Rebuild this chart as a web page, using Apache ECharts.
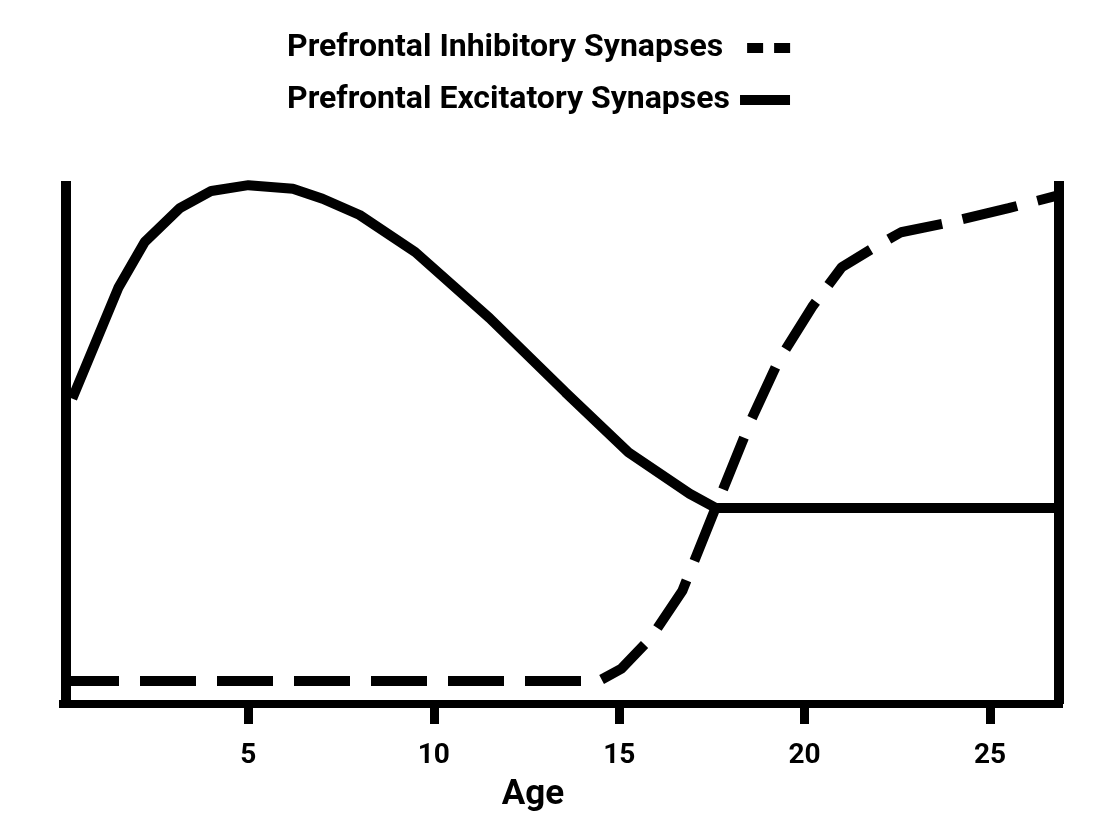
<!DOCTYPE html>
<html>
<head>
<meta charset="utf-8">
<title>Prefrontal synapses by age</title>
<script src="https://cdn.jsdelivr.net/npm/echarts@6/dist/echarts.min.js"></script>
<style>
  html, body { margin: 0; padding: 0; background: #fff; }
  #chart { width: 1108px; height: 838px; }
</style>
</head>
<body>
<div id="chart"></div>
<script>
// 数据: 年龄 (x) 与相对数量 (y, 0-100 任意单位)
var excitatoryAge = [0.25, 1.5, 2.2, 3.15, 4.0, 5.0, 6.2, 7.0, 8.0, 9.5, 11.5, 13.55, 15.25, 16.9, 17.6, 26.86];
var excitatoryVal = [58.4, 79.7, 88.3, 94.8, 98.1, 99.2, 98.5, 96.6, 93.5, 86.4, 73.8, 59.6, 48.1, 40.2, 37.5, 37.5];

var inhibitoryAge = [0, 14.45, 15.05, 15.85, 16.7, 17.6, 18.55, 19.3, 20.2, 21.0, 21.9, 22.6, 23.9, 25.5, 26.86];
var inhibitoryVal = [4.4, 4.4, 6.7, 12.6, 21.6, 37.5, 54.2, 65.7, 75.9, 83.5, 87.4, 90.2, 92.1, 94.8, 97.3];

var xTicks = [5, 10, 15, 20, 25];

var seriesNames = ['Prefrontal Inhibitory Synapses', 'Prefrontal Excitatory Synapses'];

var FONT = 'Roboto';
var legendFont = { fontSize: 32, fontWeight: 'bold', fontFamily: FONT, color: '#000' };

function pairs(xs, ys) {
    return xs.map(function (x, i) { return [x, ys[i]]; });
}

// 图例: 文字左对齐, 图标右端对齐到 x=790
var measureCtx = document.createElement('canvas').getContext('2d');
measureCtx.font = 'bold 32px ' + FONT;
var legendLeft = 287, iconRight = 790;

function iconWidth(name) {
    return Math.round(iconRight - legendLeft - 5 - measureCtx.measureText(name).width);
}

var w0 = iconWidth(seriesNames[0]);
var w1 = iconWidth(seriesNames[1]);
// 前面加一个看不见的点, 让图标宽度撑满
var icon0 = 'path://M0,0 L0.01,0 Z M' + (w0 - 43) + ',0 h16 v10 h-16 Z M' + (w0 - 16) + ',0 h16 v10 h-16 Z';
var icon1 = 'path://M0,0 L0.01,0 Z M' + (w1 - 50) + ',0 h50 v10 h-50 Z';

function legendFor(name, icon, w, top) {
    return {
        top: top,
        left: legendLeft - 5,
        orient: 'vertical',
        align: 'right',
        itemWidth: w,
        itemHeight: 10,
        itemStyle: { borderWidth: 0 },
        textStyle: legendFont,
        data: [{ name: name, icon: icon }]
    };
}

var chart = echarts.init(document.getElementById('chart'));

var option = {
    animation: false,
    textStyle: { fontFamily: FONT },
    legend: [
        legendFor(seriesNames[0], icon0, w0, 27),
        legendFor(seriesNames[1], icon1, w1, 79)
    ],
    grid: { left: 63, right: 49, top: 181, bottom: 134 },
    xAxis: {
        type: 'value',
        min: 0,
        max: 26.86,
        interval: 5,
        name: 'Age',
        nameLocation: 'middle',
        nameGap: 74,
        nameTextStyle: { fontSize: 35, fontWeight: 'bold', color: '#000', padding: [0, 56, 0, 0] },
        splitLine: { show: false },
        axisLine: { lineStyle: { color: '#000', width: 8, cap: 'square' } },
        axisTick: {
            length: 20,
            lineStyle: { color: '#000', width: 9 },
            customValues: xTicks
        },
        axisLabel: {
            margin: 38,
            fontSize: 28,
            fontWeight: 'bold',
            color: '#000',
            customValues: xTicks
        }
    },
    yAxis: [{
        type: 'value',
        min: 0,
        max: 100,
        position: 'left',
        offset: -3,
        splitLine: { show: false },
        axisLine: { show: true, lineStyle: { color: '#000', width: 10, cap: 'butt' } },
        axisTick: { show: false },
        axisLabel: { show: false }
    }, {
        type: 'value',
        min: 0,
        max: 100,
        position: 'right',
        splitLine: { show: false },
        axisLine: { show: true, lineStyle: { color: '#000', width: 10, cap: 'butt' } },
        axisTick: { show: false },
        axisLabel: { show: false }
    }],
    series: [{
        name: seriesNames[0],
        type: 'line',
        showSymbol: false,
        symbol: 'none',
        itemStyle: { color: '#000' },
        lineStyle: { color: '#000', width: 10, type: [56, 21], cap: 'butt' },
        data: pairs(inhibitoryAge, inhibitoryVal)
    }, {
        name: seriesNames[1],
        type: 'line',
        showSymbol: false,
        symbol: 'none',
        itemStyle: { color: '#000' },
        lineStyle: { color: '#000', width: 10 },
        data: pairs(excitatoryAge, excitatoryVal)
    }]
};

chart.setOption(option);
</script>
</body>
</html>
